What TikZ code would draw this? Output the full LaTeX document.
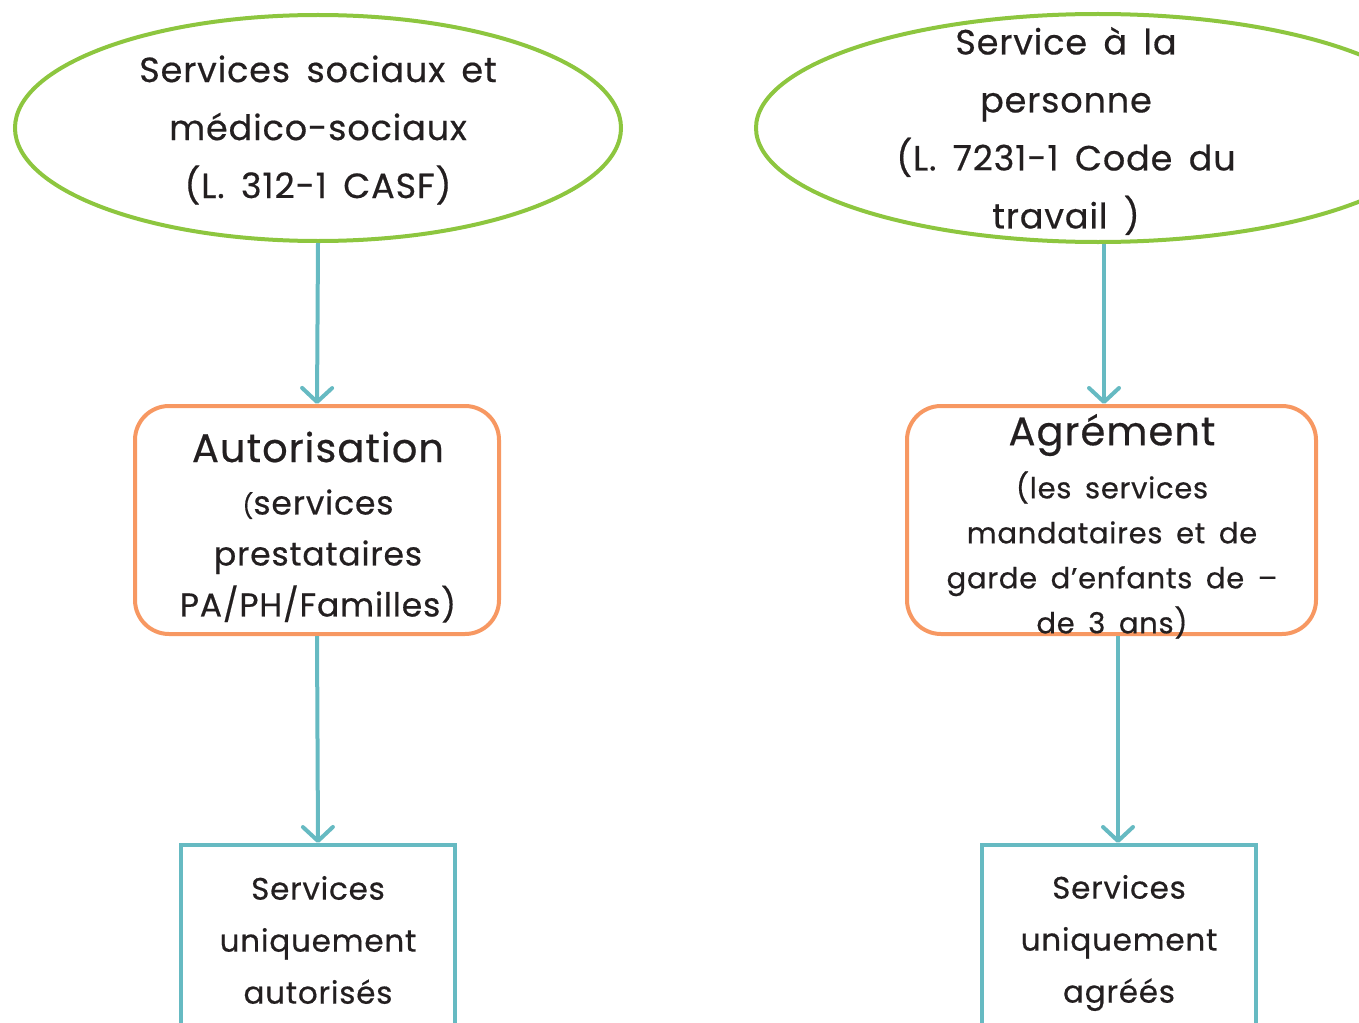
\documentclass[tikz,border=0pt]{standalone}
\usepackage{fontspec}
\setmainfont[LetterSpace=2.5,WordSpace=1.6,FakeBold=0.5]{Poppins}
\usetikzlibrary{shapes.geometric,arrows.meta}
\definecolor{leafgreen}{RGB}{141,198,63}
\definecolor{softorange}{RGB}{247,152,98}
\definecolor{teal}{RGB}{102,186,194}
\definecolor{ink}{RGB}{35,31,32}
\tikzset{
  law/.style={draw=leafgreen, line width=4pt, ellipse, inner sep=0pt},
  regime/.style={draw=softorange, line width=4pt, rounded corners=34pt, inner sep=0pt},
  result/.style={draw=teal, line width=4pt, inner sep=0pt},
  flow/.style={draw=teal, line width=4pt, -{Straight Barb[length=14pt,width=30pt,round]}},
  txt/.style={text=ink, align=center, inner sep=0pt}
}
\begin{document}
\begin{tikzpicture}[x=1pt,y=-1pt]
\useasboundingbox (0,0) rectangle (1359,1022);
\clip (0,0) rectangle (1359,1022);
% outlines
\node[law, minimum width=606pt, minimum height=226pt] (lawL) at (318,128) {};
\node[law, minimum width=684pt, minimum height=228pt] (lawR) at (1098,128) {};
\node[regime, minimum width=364pt, minimum height=228pt] (boxL) at (317,520) {};
\node[regime, minimum width=409pt, minimum height=228pt] (boxR) at (1111.5,520) {};
\node[result, minimum width=274pt, minimum height=240pt] (resL) at (318,965) {};
\node[result, minimum width=274pt, minimum height=240pt] (resR) at (1119,965) {};
% connectors
\draw[flow] (lawL.south) -- (boxL.north);
\draw[flow] (lawR.south -| 1104,0) -- (boxR.north -| 1104,0);
\draw[flow] (boxL.south) -- (resL.north);
\draw[flow] (boxR.south -| 1118,0) -- (resR.north -| 1118,0);
% texts
\node[txt, font=\fontsize{35}{58}\selectfont] (tLawL) at (318,130)
  {Services sociaux et\\médico-sociaux\\(L. 312-1 CASF)};
\node[txt, font=\fontsize{35}{58}\selectfont] (tLawR) at (1066,131)
  {Service à la\\personne\\(L. 7231-1 Code du\\travail )};
\node[txt, font=\fontsize{40}{40}\selectfont] (tAut) at (318,447) {Autorisation};
\node[txt, font=\fontsize{33}{51}\selectfont] (tAutSub) at (318,556)
  {{\fontsize{24}{51}\selectfont(}services\\prestataires\\PA/PH/Familles)};
\node[txt, font=\fontsize{40}{40}\selectfont] (tAgr) at (1112,435) {Agrément};
\node[txt, font=\fontsize{29}{45}\selectfont] (tAgrSub) at (1112,555)
  {(les services\\mandataires et de\\garde d’enfants de –\\de 3 ans)};
\node[txt, font=\fontsize{31}{52}\selectfont] (tResL) at (318,940)
  {Services\\uniquement\\autorisés};
\node[txt, font=\fontsize{31}{52}\selectfont] (tResR) at (1119,943)
  {Services\\uniquement\\agréés};
\end{tikzpicture}
\end{document}
